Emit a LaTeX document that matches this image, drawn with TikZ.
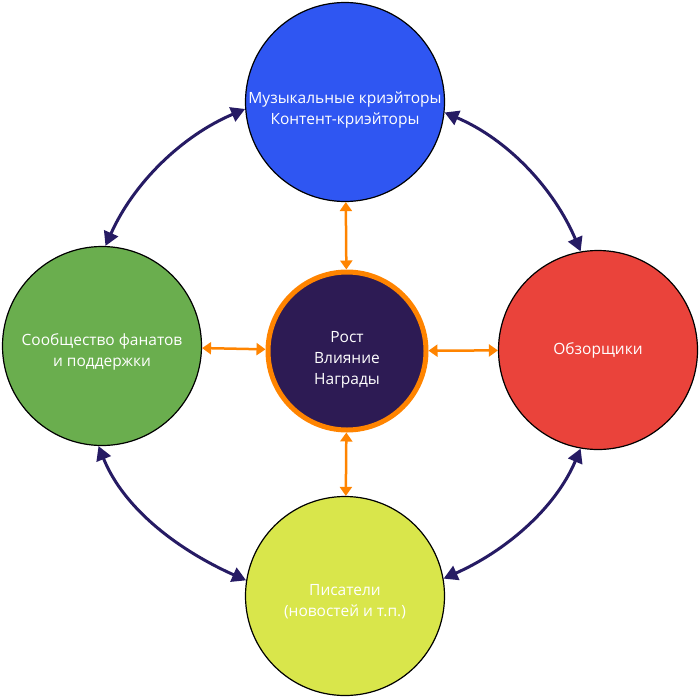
\documentclass[tikz,border=0pt]{standalone}
\usepackage{fontspec}
\setmainfont{Open Sans}
\usetikzlibrary{arrows.meta}

\definecolor{creatorblue}{RGB}{47,86,242}
\definecolor{fangreen}{RGB}{106,174,78}
\definecolor{reviewred}{RGB}{234,67,59}
\definecolor{writeryellow}{RGB}{217,230,75}
\definecolor{hubfill}{RGB}{45,27,84}
\definecolor{hubring}{RGB}{255,132,0}
\definecolor{linknavy}{RGB}{38,27,100}

\begin{document}
\begin{tikzpicture}[x=1pt,y=1pt,
    role/.style={circle, draw=black, line width=1.2pt, minimum size=199pt, inner sep=0pt,
      text=white, align=center, font=\fontsize{15.5}{21}\selectfont},
    lowtext/.style={text depth=0pt, text height=#1},
    hub/.style={role, lowtext=67pt, draw=hubring, line width=5pt, fill=hubfill, minimum size=158pt},
    link/.style={line width=3pt, linknavy,
      {Triangle[length=14pt,width=15pt]}-{Triangle[length=14pt,width=15pt]}},
    spoke/.style={line width=2.5pt, hubring,
      {Triangle[length=9pt,width=12pt]}-{Triangle[length=9pt,width=12pt]}}]
  \useasboundingbox (0,0) rectangle (700,-699);

  % outer roles
  \node[role, lowtext=44pt, fill=creatorblue] (creators) at (345,-102) {Музыкальные криэйторы\\Контент-криэйторы};
  \node[role, lowtext=41pt, fill=fangreen] (fans) at (102,-346) {Сообщество фанатов\\и поддержки};
  \node[role, fill=reviewred] (reviewers) at (598,-350) {Обзорщики};
  \node[role, lowtext=40pt, fill=writeryellow] (writers) at (345,-596) {Писатели\\(новостей и т.п.)};

  % hub in the middle
  \node[hub] (hub) at (347,-351) {Рост\\Влияние\\Награды};

  % links round the ring
  \draw[link] (creators.184) to[out=203, in=66, looseness=0.9] (fans.88);
  \draw[link] (creators.354) to[out=337, in=113, looseness=0.9] (reviewers.100);
  \draw[link] (fans.268) to[out=292, in=156, looseness=0.9] (writers.171);
  \draw[link] (writers.10) to[out=24, in=247, looseness=0.9] (reviewers.260);

  % spokes from the hub
  \foreach \role in {creators, fans, reviewers, writers}{
    \draw[spoke] (hub) -- (\role);
  }
\end{tikzpicture}
\end{document}
